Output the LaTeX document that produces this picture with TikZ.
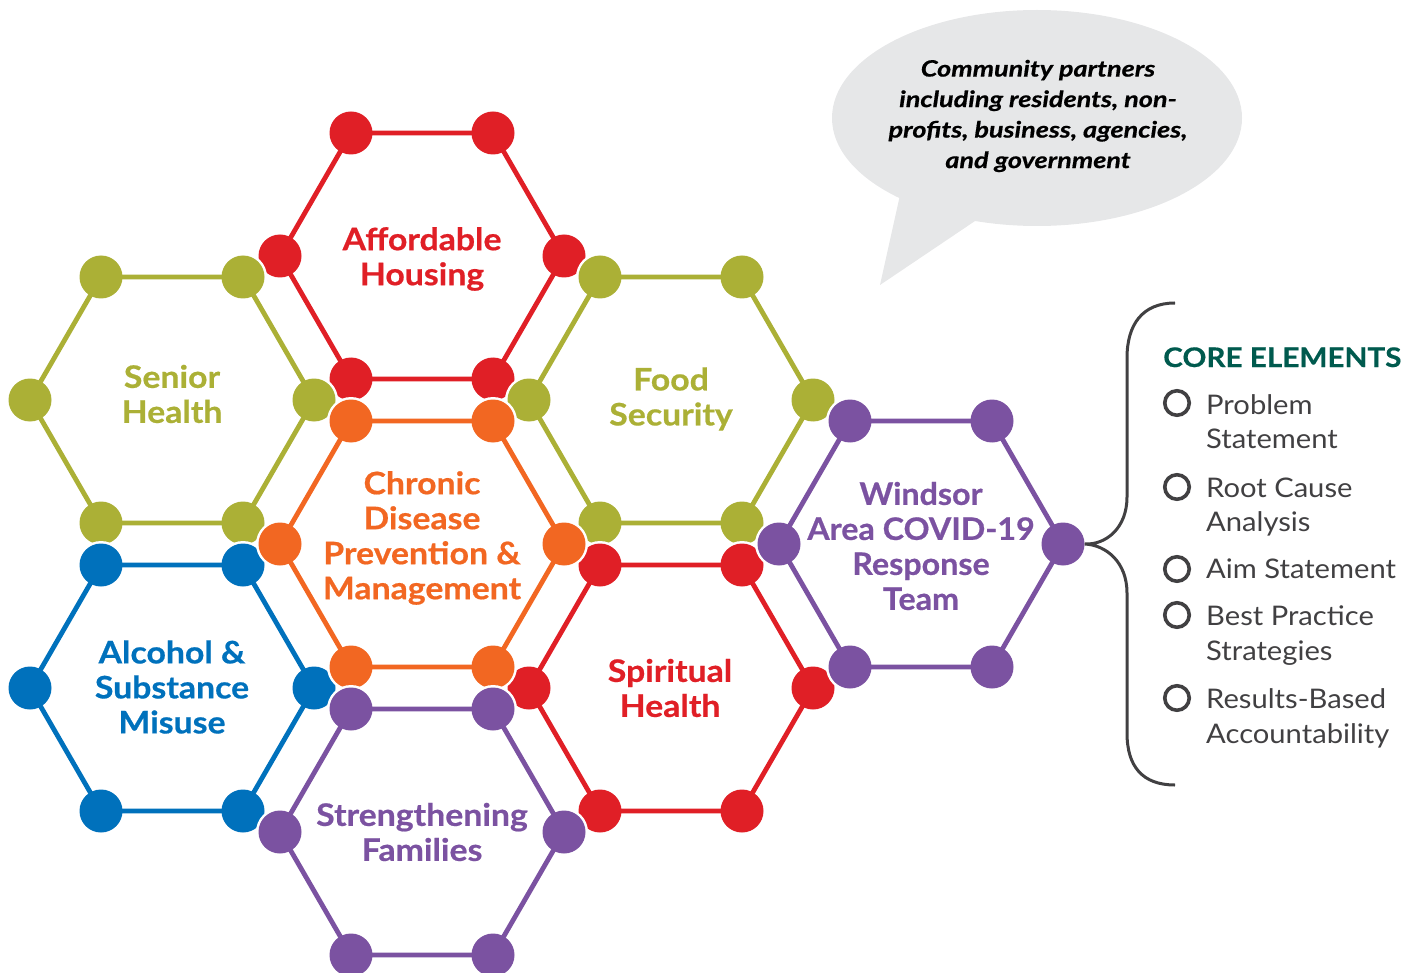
\documentclass[tikz,border=0pt]{standalone}
\usepackage{fontspec}
\setmainfont{Lato}
\usetikzlibrary{shapes.geometric}
\definecolor{hred}{HTML}{E01F26}
\definecolor{holive}{HTML}{ABB036}
\definecolor{horange}{HTML}{F26722}
\definecolor{hblue}{HTML}{0071BC}
\definecolor{hpurple}{HTML}{7B52A1}
\definecolor{cgreen}{HTML}{005A4E}
\definecolor{cgray}{HTML}{414042}
\definecolor{bubblegray}{HTML}{E6E7E8}
\tikzset{
  hexedge/.style={line width=4.8pt, line join=round},
  hexdot/.style={circle, inner sep=0pt, minimum size=43pt},
  hexhalo/.style={fill=white},
  hexlabel/.style={font=\fontsize{31}{35}\selectfont\bfseries\addfontfeatures{FakeStretch=1.09,FakeBold=0.6}, align=center, inner sep=0pt},
  hexlabelnarrow/.style={font=\fontsize{31}{35}\selectfont\bfseries\addfontfeatures{FakeStretch=1.04,FakeBold=0.6}, align=center, inner sep=0pt},
  bubbletext/.style={font=\fontsize{22.5}{30.5}\selectfont\bfseries\itshape\addfontfeatures{FakeStretch=1.2,FakeBold=0.6}, align=center, inner sep=0pt},
  coretitle/.style={font=\fontsize{27}{30}\selectfont\bfseries\addfontfeatures{FakeStretch=1.1,FakeBold=0.4}, text=cgreen, anchor=base west, inner sep=0pt},
  coreitem/.style={font=\fontsize{27}{30}\selectfont\addfontfeatures{FakeStretch=1.08}, text=cgray, anchor=base west, inner sep=0pt},
  listmark/.style={circle, draw=cgray, line width=3.6pt, minimum size=24.5pt, inner sep=0pt},
  bracestyle/.style={draw=cgray, line width=3pt},
}
\newcommand\hexcell[4]{%
  \coordinate (#1-1) at ({#2+142},#3);
  \coordinate (#1-2) at ({#2+71},{#3-123});
  \coordinate (#1-3) at ({#2-71},{#3-123});
  \coordinate (#1-4) at ({#2-142},#3);
  \coordinate (#1-5) at ({#2-71},{#3+123});
  \coordinate (#1-6) at ({#2+71},{#3+123});
  \foreach \i in {1,...,6} \fill[hexhalo] (#1-\i) circle[radius=24pt];
  \draw[hexedge,#4] (#1-1) -- (#1-2) -- (#1-3) -- (#1-4) -- (#1-5) -- (#1-6) -- cycle;
  \foreach \i in {1,...,6} \node[hexdot, fill=#4] (#1-n\i) at (#1-\i) {};
}
\begin{document}
\begin{tikzpicture}[x=1pt,y=-1pt]
\useasboundingbox (0,0) rectangle (1421,973);
% speech bubble
\node[ellipse, fill=bubblegray, minimum width=410pt, minimum height=216pt, inner sep=0pt] (bubble) at (1037,118) {};
\coordinate (tailA) at (900,195);
\coordinate (tailTip) at (880,285);
\coordinate (tailB) at (978,219);
\fill[bubblegray] (tailA) -- (tailTip) -- (tailB) -- cycle;
\node[bubbletext] (bubbletxt) at (1038,116) {Community partners\\including residents, non-\\profits, business, agencies,\\and government};
% hexagons
\hexcell{ah}{422}{256}{hred}
\hexcell{sh}{172}{400}{holive}
\hexcell{fs}{671}{400}{holive}
\hexcell{as}{172}{688}{hblue}
\hexcell{sp}{671}{688}{hred}
\hexcell{cd}{422}{544}{horange}
\hexcell{sf}{422}{832}{hpurple}
\hexcell{wa}{921}{544}{hpurple}
% labels
\node[hexlabel, text=hred] (ahlab) at (422,259) {Affordable\\Housing};
\node[hexlabel, text=holive] (shlab) at (172,394) {Senior\\Health};
\node[hexlabel, text=holive] (fslab) at (671,399) {Food\\Security};
\node[hexlabel, text=horange] (cdlab) at (422,538) {Chronic\\Disease\\Prevention \&\\Management};
\node[hexlabel, text=hblue] (aslab) at (172,687) {Alcohol \&\\Substance\\Misuse};
\node[hexlabel, text=hred] (splab) at (670,688) {Spiritual\\Health};
\node[hexlabel, text=hpurple] (sflab) at (422,832) {Strengthening\\Families};
\node[hexlabelnarrow, text=hpurple] (walab) at (921,546) {Windsor\\Area COVID-19\\Response\\Team};
% brace
\coordinate (braceTop) at (1175,303);
\coordinate (braceBot) at (1175,785);
\draw[bracestyle] (braceTop) .. controls (1142,303) and (1127,325) .. (1127,358) -- (1127,497)
  .. controls (1127,528) and (1106,545) .. (wa-n1.east)
  .. controls (1106,545) and (1127,562) .. (1127,593) -- (1127,733)
  .. controls (1127,766) and (1142,785) .. (braceBot);
% core elements
\node[coretitle] (coret) at (1163,367) {CORE ELEMENTS};
\node[listmark] (m1) at (1177,403) {};
\node[listmark] (m2) at (1177,487) {};
\node[listmark] (m3) at (1177,569) {};
\node[listmark] (m4) at (1177,615) {};
\node[listmark] (m5) at (1177,698) {};
\node[coreitem] (i1a) at (1206,414) {Problem};
\node[coreitem] (i1b) at (1206,448) {Statement};
\node[coreitem] (i2a) at (1206,497) {Root Cause};
\node[coreitem] (i2b) at (1206,531) {Analysis};
\node[coreitem] (i3a) at (1206,578) {Aim Statement};
\node[coreitem] (i4a) at (1206,625) {Best Practice};
\node[coreitem] (i4b) at (1206,660) {Strategies};
\node[coreitem] (i5a) at (1206,708) {Results-Based};
\node[coreitem] (i5b) at (1206,743) {Accountability};
\end{tikzpicture}
\end{document}
